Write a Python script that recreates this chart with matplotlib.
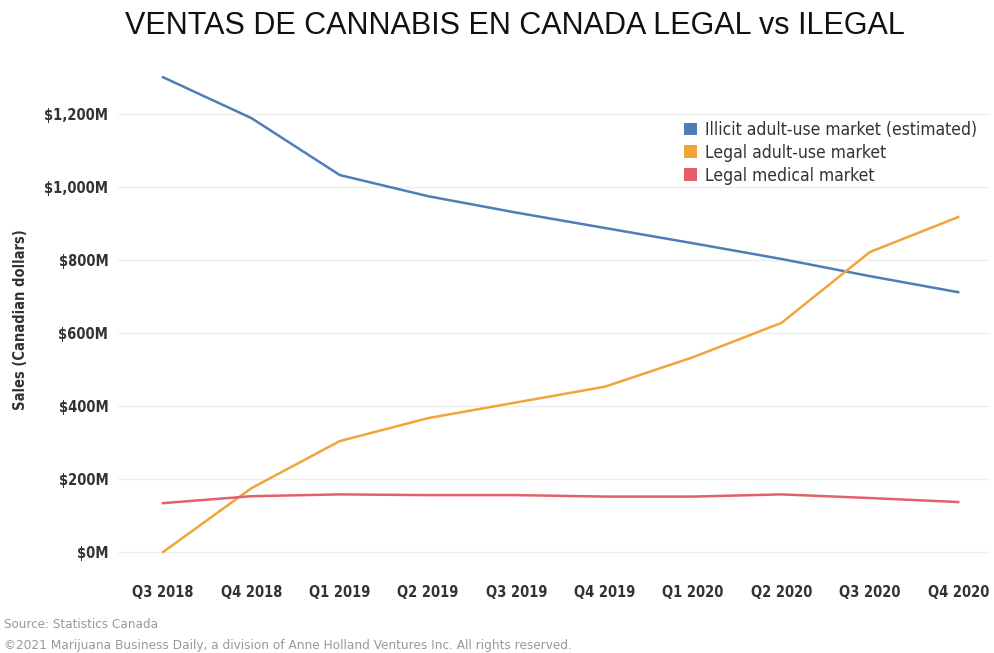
import matplotlib
matplotlib.use("Agg")
import matplotlib.pyplot as plt
from matplotlib.patches import Patch
from matplotlib.font_manager import FontProperties

quarters = ["Q3 2018", "Q4 2018", "Q1 2019", "Q2 2019", "Q3 2019",
            "Q4 2019", "Q1 2020", "Q2 2020", "Q3 2020", "Q4 2020"]
illicit = [1301, 1189, 1033, 975, 930, 888, 846, 803, 756, 712]
legal_adult = [0, 175, 304, 367, 410, 453, 534, 628, 822, 918]
legal_medical = [134, 153, 158, 156, 156, 152, 152, 158, 148, 137]
series_names = ["Illicit adult-use market (estimated)",
                "Legal adult-use market",
                "Legal medical market"]
y_ticks = [0, 200, 400, 600, 800, 1000, 1200]
y_tick_labels = ["$0M", "$200M", "$400M", "$600M", "$800M", "$1,000M", "$1,200M"]

colors = ["#4f7db5", "#f2a43a", "#e2606b"]

def fp(size, weight="normal"):
    return FontProperties(family="DejaVu Sans", stretch="condensed",
                          weight=weight, size=size)

fig = plt.figure(figsize=(9.95, 6.53), dpi=100)
ax = fig.add_axes([118 / 995, 1 - 563 / 653, (990 - 118) / 995, 500 / 653])

x = list(range(len(quarters)))
for vals, c in zip([illicit, legal_adult, legal_medical], colors):
    ax.plot(x, vals, color=c, lw=1.8, solid_joinstyle="round")

ax.set_xlim(-0.51, 9.36)
ax.set_ylim(-30, 1340)
ax.set_yticks(y_ticks)
ax.set_yticklabels(y_tick_labels, fontproperties=fp(10.5, "bold"), color="#333333")
ax.set_xticks(x)
ax.set_xticklabels(quarters, fontproperties=fp(10.5, "bold"), color="#333333")
ax.tick_params(axis="both", length=0)
ax.tick_params(axis="y", pad=7)
ax.tick_params(axis="x", pad=16)
ax.grid(axis="y", color="#eeeeee", lw=1)
ax.set_axisbelow(True)
for s in ax.spines.values():
    s.set_visible(False)

ax.set_ylabel("Sales (Canadian dollars)", fontproperties=fp(10.5, "bold"),
              color="#333333")
ax.yaxis.set_label_coords((28 - 118) / 872, (563 - 320) / 500)

handles = [Patch(facecolor=c, edgecolor="none") for c in colors]
leg = ax.legend(handles, series_names, loc="upper left",
                bbox_to_anchor=((677 - 118) / 872, (563 - 114) / 500),
                frameon=False, prop=fp(12.5),
                handlelength=0.75, handleheight=0.75, handletextpad=0.45,
                labelspacing=0.28, borderaxespad=0)
for t in leg.get_texts():
    t.set_color("#333333")

fig.text(515 / 995, 1 - 26 / 653, "VENTAS DE CANNABIS EN CANADA LEGAL vs ILEGAL",
         ha="center", va="center", fontsize=22, family="Liberation Sans",
         color="#111111")
fig.text(4 / 995, 1 - 625 / 653, "Source: Statistics Canada", ha="left",
         va="center", fontproperties=fp(9.6), color="#999999")
fig.text(4 / 995, 1 - 645 / 653,
         "\u00a92021 Marijuana Business Daily, a division of Anne Holland Ventures Inc. All rights reserved.",
         ha="left", va="center", fontproperties=fp(9.7), color="#999999")

fig.savefig("out.png", dpi=100, facecolor="white")
